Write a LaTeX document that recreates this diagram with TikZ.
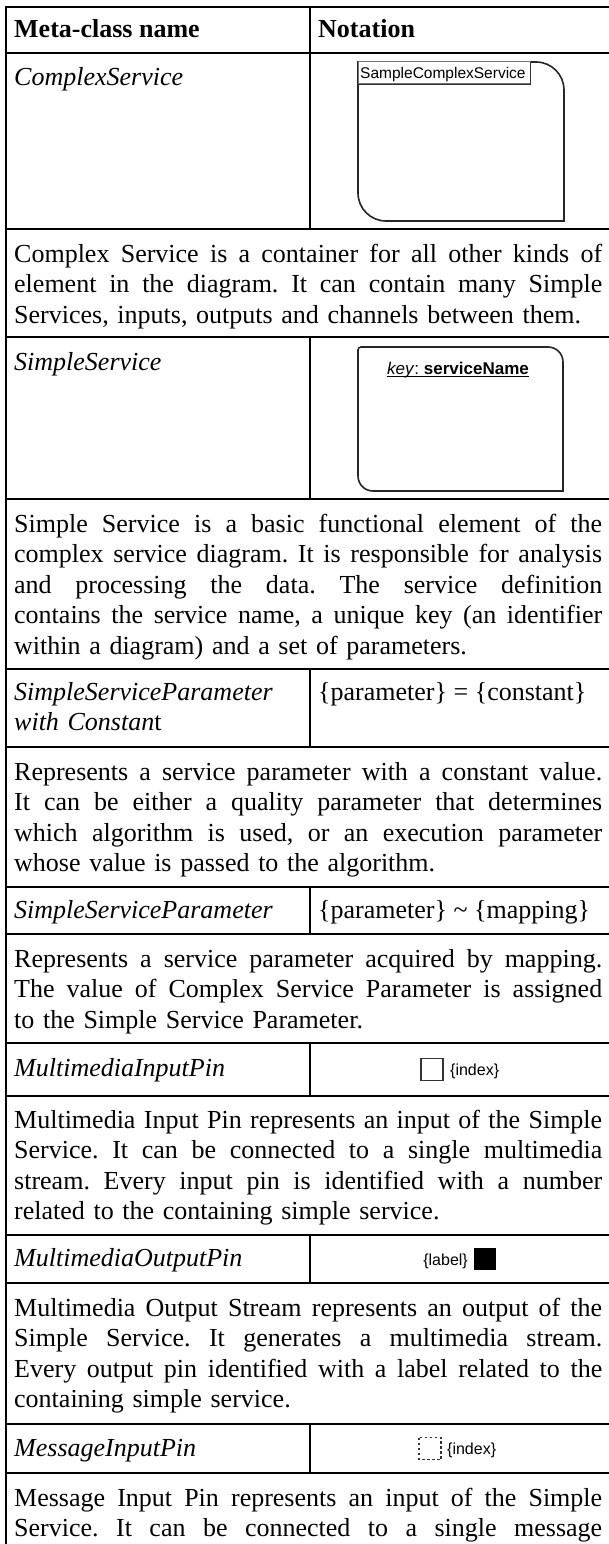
\documentclass[tikz,border=0pt]{standalone}
\usepackage{fontspec}
\setmainfont{Liberation Serif}
\newfontfamily\notefont{Liberation Sans}
\frenchspacing
% one justified line of a paragraph (equal, stretchable word spaces),
% and the last, flush-left line of a paragraph
\newcommand\jline[1]{{\spaceskip=0.25em plus 1fil minus 0.1em\hbox to 588pt{#1}}\par}
\newcommand\lline[1]{{\hbox to 588pt{#1\hss}}\par}
\tikzset{
  grid/.style={line width=2pt, black},
  txt/.style={anchor=base west, inner sep=0pt, font=\fontsize{26}{30.5}\selectfont},
  para/.style={txt, text width=588pt},
  meta/.style={txt, font=\fontsize{26}{30.5}\selectfont\itshape},
  head/.style={txt, font=\fontsize{26}{30.5}\selectfont\bfseries},
  outline/.style={line width=1.6pt, draw=black!85},
  sans/.style={inner sep=0pt, font=\notefont\fontsize{16}{19}\selectfont},
  pinbox/.style={line width=1.2pt, draw=black!80},
}
\begin{document}
\begin{tikzpicture}[x=1pt, y=-1pt]
\useasboundingbox (0,0) rectangle (609,1544);
\fill[white] (0,0) rectangle (609,1544);

% ---- table rules ----
\foreach \yy in {7,53,229,337,499,669,747,887,934,1043,1096,1235,1283,1424,1473}
  \draw[grid] (5,\yy) -- (612,\yy);
\draw[grid] (6,6) -- (6,1546);
\draw[grid] (310,7) -- (310,229);
\draw[grid] (310,337) -- (310,499);
\draw[grid] (310,669) -- (310,747);
\draw[grid] (310,887) -- (310,934);
\draw[grid] (310,1043) -- (310,1096);
\draw[grid] (310,1235) -- (310,1283);
\draw[grid] (310,1424) -- (310,1473);

% ---- header ----
\node[head] (hName) at (14,38) {Meta-class name};
\node[head] (hNote) at (318,38) {Notation};

% ---- ComplexService ----
\node[meta] (csName) at (14,86) {ComplexService};
\draw[outline] (358,62) -- (536,62) arc[start angle=-90, end angle=0, radius=28]
  -- (564,221) -- (386,221) arc[start angle=90, end angle=180, radius=28] -- cycle;
\draw[fill=white, draw=black!55, line width=1pt] (358,62) rectangle (530,84);
\draw[black!80, line width=1.2pt] (358,84.5) -- (530.5,84.5) -- (530.5,62);
\node[sans, anchor=base west, font=\notefont\fontsize{15.5}{18}\selectfont] (csLabel) at (360,79) {SampleComplexService};

\node[para] (d1) at (14,262) {%
\jline{Complex Service is a container for all other kinds of}%
\jline{element in the diagram. It can contain many Simple}%
\lline{Services, inputs, outputs and channels between them.}};

% ---- SimpleService ----
\node[meta] (ssName) at (14,370) {SimpleService};
\draw[outline] (358,350) arc[start angle=180, end angle=270, radius=3]
  -- (548,347) arc[start angle=-90, end angle=0, radius=15]
  -- (563,491) -- (373,491) arc[start angle=90, end angle=180, radius=15] -- cycle;
\node[sans, anchor=base, font=\notefont\fontsize{17}{20}\selectfont] (ssKey) at (458,374)
  {\textit{key}: \textbf{serviceName}};
\draw[line width=0.9pt] ([yshift=-2pt]ssKey.base west) -- ([yshift=-2pt]ssKey.base east);

\node[para] (d2) at (14,532) {%
\jline{Simple Service is a basic functional element of the}%
\jline{complex service diagram. It is responsible for analysis}%
\jline{and processing the data. The service definition}%
\jline{contains the service name, a unique key (an identifier}%
\lline{within a diagram) and a set of parameters.}};

% ---- SimpleServiceParameter with Constant ----
\node[txt, text width=290pt] (spcName) at (14,700) {%
{\itshape SimpleServiceParameter}\par
{\itshape with Constan}t\par};
\node[txt] (spcNote) at (318,700) {\{parameter\} = \{constant\}};

\node[para] (d3) at (14,780) {%
\jline{Represents a service parameter with a constant value.}%
\jline{It can be either a quality parameter that determines}%
\jline{which algorithm is used, or an execution parameter}%
\lline{whose value is passed to the algorithm.}};

% ---- SimpleServiceParameter ----
\node[meta] (spName) at (14,918) {SimpleServiceParameter};
\node[txt] (spNote) at (318,918) {\{parameter\} \textasciitilde{} \{mapping\}};

\node[para] (d4) at (14,967) {%
\jline{Represents a service parameter acquired by mapping.}%
\jline{The value of Complex Service Parameter is assigned}%
\lline{to the Simple Service Parameter.}};

% ---- MultimediaInputPin ----
\node[meta] (mipName) at (14,1076) {MultimediaInputPin};
\draw[pinbox] (421,1058.5) rectangle (443,1080.5);
\node[sans, anchor=base west] (mipIdx) at (450,1075) {\{index\}};

\node[para] (d5) at (14,1128) {%
\jline{Multimedia Input Pin represents an input of the Simple}%
\jline{Service. It can be connected to a single multimedia}%
\jline{stream. Every input pin is identified with a number}%
\lline{related to the containing simple service.}};

% ---- MultimediaOutputPin ----
\node[meta] (mopName) at (14,1266) {MultimediaOutputPin};
\node[sans, anchor=base east] (mopLbl) at (468,1265) {\{label\}};
\fill[black] (474,1248) rectangle (496,1270);

\node[para] (d6) at (14,1316) {%
\jline{Multimedia Output Stream represents an output of the}%
\jline{Simple Service. It generates a multimedia stream.}%
\jline{Every output pin identified with a label related to the}%
\lline{containing simple service.}};

% ---- MessageInputPin ----
\node[meta] (msgName) at (14,1456) {MessageInputPin};
\draw[pinbox, dash pattern=on 2.5pt off 2.5pt, line width=1.1pt] (419,1437.5) rectangle (441,1459.5);
\node[sans, anchor=base west] (msgIdx) at (447,1454) {\{index\}};

\node[para] (d7) at (14,1506) {%
\jline{Message Input Pin represents an input of the Simple}%
\jline{Service. It can be connected to a single message}};
\end{tikzpicture}
\end{document}
